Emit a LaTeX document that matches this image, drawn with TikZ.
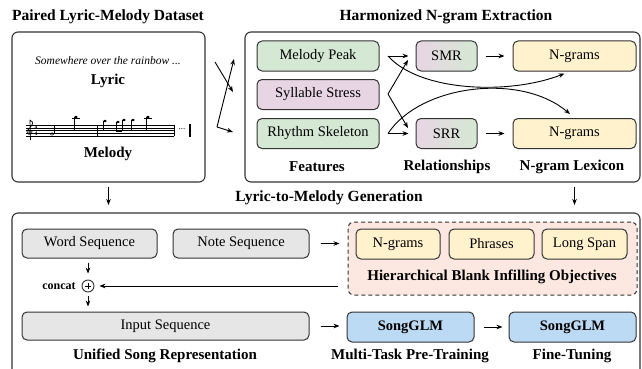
\documentclass[tikz,border=0pt]{standalone}
\usepackage{fontspec}
\setmainfont{Liberation Serif}
\usetikzlibrary{calc,arrows.meta}

\definecolor{linecol}{HTML}{333333}
\definecolor{featgreen}{HTML}{D5E8D4}
\definecolor{featpink}{HTML}{E8D5E4}
\definecolor{lexyellow}{HTML}{FFF2CC}
\definecolor{seqgray}{HTML}{E6E6E6}
\definecolor{glmblue}{HTML}{BCDAF3}
\definecolor{objsalmon}{HTML}{FCE8E0}

\tikzset{
  box/.style={draw=linecol, line width=1pt, rounded corners=5pt, inner sep=0pt,
    minimum height=30pt, font=\fontsize{14.5}{17}\selectfont},
  panel/.style={draw=linecol, line width=1.1pt, rounded corners=6pt, inner sep=0pt},
  title/.style={font=\fontsize{15.5}{18}\selectfont\bfseries},
  caption/.style={font=\fontsize{15}{18}\selectfont\bfseries},
  arr/.style={->, line width=0.9pt},
}

\begin{document}
\begin{tikzpicture}[x=1pt, y=-1pt, >={Stealth[length=6pt,width=4.6pt]}, line join=round]
\path[use as bounding box] (0,0) rectangle (642,369);
\clip (0,0) rectangle (642,369);

% dataset
\node[title] (dstitle) at (108,17) {Paired Lyric-Melody Dataset};
\node[panel, minimum width=193pt, minimum height=150pt] (ds) at (108.5,107) {};
\node[font=\fontsize{11.5}{14}\selectfont\itshape] (lyrtext) at (108,61) {Somewhere over the rainbow ...};
\node[caption] (lyric) at (108,81) {Lyric};
\node[caption] (melody) at (108,154) {Melody};
\foreach \k in {0,...,4}
  \draw[line width=0.5pt] (26,125+2.75*\k) -- (174,125+2.75*\k);
\draw[line width=0.6pt] (97,125) -- (97,136) (174,125) -- (174,136);
\draw[line width=0.7pt] (30.5,140) -- (30,120) .. controls (34,123) .. (27,131)
  .. controls (26,135) and (33,136) .. (32,131) .. controls (31,129) and (28,130) .. (29,133);
\node[font=\fontsize{5.5}{6}\selectfont\bfseries, inner sep=0pt] (tsa) at (36,127.7) {4};
\node[font=\fontsize{5.5}{6}\selectfont\bfseries, inner sep=0pt] (tsb) at (36,133.2) {4};
\draw[line width=0.5pt] (52,134) ellipse [x radius=1.8, y radius=1.3];
\draw[line width=0.5pt] (53.8,134) -- (53.8,125);
\foreach \nx/\ny in {76/117, 105/121, 118/122, 124/120, 133/120, 148/117} {
  \fill (\nx,\ny) ellipse [x radius=1.8, y radius=1.3];
  \draw[line width=0.5pt] (\nx-1.7,\ny) -- (\nx-1.7,131);
}
\draw[line width=1pt] (116.3,131) -- (122.3,131);
\draw[line width=0.5pt] (72,118.5) -- (80,118.5) (144,118.5) -- (152,118.5);
\node[font=\fontsize{9}{10}\selectfont, inner sep=0pt] (dots) at (182,129) {...};
\fill (188.5,124) rectangle (191,137);

% extraction
\node[title] (extitle) at (446,17) {Harmonized N-gram Extraction};
\node[panel, minimum width=395pt, minimum height=150pt] (ex) at (442.5,107) {};
\node[box, fill=featgreen, minimum width=122pt] (mp) at (318,56) {Melody Peak};
\node[box, fill=featpink, minimum width=122pt] (ss) at (318,94.5) {Syllable Stress};
\node[box, fill=featgreen, minimum width=122pt] (rs) at (318,133.5) {Rhythm Skeleton};
\node[box, left color=featpink, right color=featgreen, minimum width=61pt] (smr) at (446.5,56) {SMR};
\node[box, left color=featpink, right color=featgreen, minimum width=61pt] (srr) at (446.5,133.5) {SRR};
\node[box, fill=lexyellow, minimum width=123pt] (ng1) at (574.5,56) {N-grams};
\node[box, fill=lexyellow, minimum width=123pt] (ng2) at (574.5,133.5) {N-grams};
\node[caption] (feat) at (317,167) {Features};
\node[caption] (rel) at (447,167) {Relationships};
\node[caption] (lex) at (572,167) {N-gram Lexicon};

\coordinate (lyo) at (215,62);
\coordinate (ssin) at (233,92);
\coordinate (meo) at (217,127);
\coordinate (mpin) at (234,59);
\coordinate (rsin) at (233,132);
\draw[arr] (lyo) -- (ssin);
\draw[arr] (meo) -- (mpin);
\draw[arr] (meo) -- (rsin);

\coordinate (mpo) at (388,56);
\coordinate (sso) at (388,94);
\coordinate (rso) at (388,133.5);
\coordinate (smrin) at (408,60);
\coordinate (srrin) at (408,128);
\draw[arr, shorten >=7pt] (mpo) -- (smr);
\draw[arr, shorten >=7pt] (rso) -- (srr);
\draw[arr] (sso) -- (smrin);
\draw[arr] (sso) -- (srrin);
\draw[arr] (mpo) .. controls (420,92) and (510,95) .. ($(ng1.south)+(-10,2)$);
\draw[arr] (rso) .. controls (420,85) and (520,72) .. ($(ng2.north)+(-4.5,-4)$);
\draw[arr, shorten <=8pt, shorten >=8pt] (smr) -- (ng1);
\draw[arr, shorten <=8pt, shorten >=8pt] (srr) -- (ng2);

% generation
\node[title] (gentitle) at (329,198) {Lyric-to-Melody Generation};
\coordinate (gtl) at (12,213);
\coordinate (gtr) at (640,213);
\draw[draw=linecol, line width=1.1pt, rounded corners=6pt] (12,400) -- (gtl) -- (gtr) -- (640,400);
\draw[arr, shorten <=4pt, shorten >=8pt] (ds.south) -- (ds.south |- gtl);
\draw[arr, shorten <=4pt, shorten >=8pt] (ng2.south |- ex.south) -- (ng2.south |- gtl);

\node[box, fill=seqgray, minimum width=135pt, minimum height=29pt] (wseq) at (89.5,243.5) {Word Sequence};
\node[box, fill=seqgray, minimum width=136pt, minimum height=29pt] (nseq) at (241,243.5) {Note Sequence};
\node[box, fill=seqgray, minimum width=287pt, minimum height=28pt] (iseq) at (165.5,326) {Input Sequence};
\node[draw=linecol, line width=0.9pt, circle, minimum size=12pt, inner sep=0pt] (cat) at (88,286) {};
\draw[line width=0.8pt] (cat.center) +(-3,0) -- +(3,0) +(0,-3) -- +(0,3);
\node[font=\fontsize{12}{14}\selectfont\bfseries] (concat) at (59,286) {concat};

\node[draw=linecol, line width=1pt, dash pattern=on 4pt off 3pt, rounded corners=6pt, fill=objsalmon,
  minimum width=289pt, minimum height=73pt, inner sep=0pt] (obj) at (492.5,258.5) {};
\node[box, fill=lexyellow, minimum width=84pt] (og) at (398,244) {N-grams};
\node[box, fill=lexyellow, minimum width=85pt] (op) at (491.5,244) {Phrases};
\node[box, fill=lexyellow, minimum width=85pt] (ol) at (584.5,244) {Long Span};
\node[caption] (objcap) at (492,277) {Hierarchical Blank Infilling Objectives};

\node[box, fill=glmblue, minimum width=127pt, font=\fontsize{14.5}{17}\selectfont\bfseries] (pre) at (410.5,327) {SongGLM};
\node[box, fill=glmblue, minimum width=127pt, font=\fontsize{14.5}{17}\selectfont\bfseries] (fine) at (572.5,327) {SongGLM};

\node[caption] (usr) at (165,356) {Unified Song Representation};
\node[caption] (mtp) at (410,356) {Multi-Task Pre-Training};
\node[caption] (ft) at (572,356) {Fine-Tuning};

\draw[arr, shorten <=11pt, shorten >=8pt] (nseq.east) -- (nseq.east -| obj.west);
\draw[arr, shorten <=10pt, shorten >=5pt] (obj.west |- cat) -- (cat);
\draw[arr, shorten <=4pt, shorten >=6pt] (wseq.south -| cat) -- (cat);
\draw[arr, shorten <=4pt, shorten >=5pt] (cat) -- (cat |- iseq.north);
\draw[arr, shorten <=11pt, shorten >=7pt] (iseq.east) -- (iseq.east -| pre.west);
\draw[arr, shorten <=9pt, shorten >=6pt] (pre) -- (fine);
\end{tikzpicture}
\end{document}
